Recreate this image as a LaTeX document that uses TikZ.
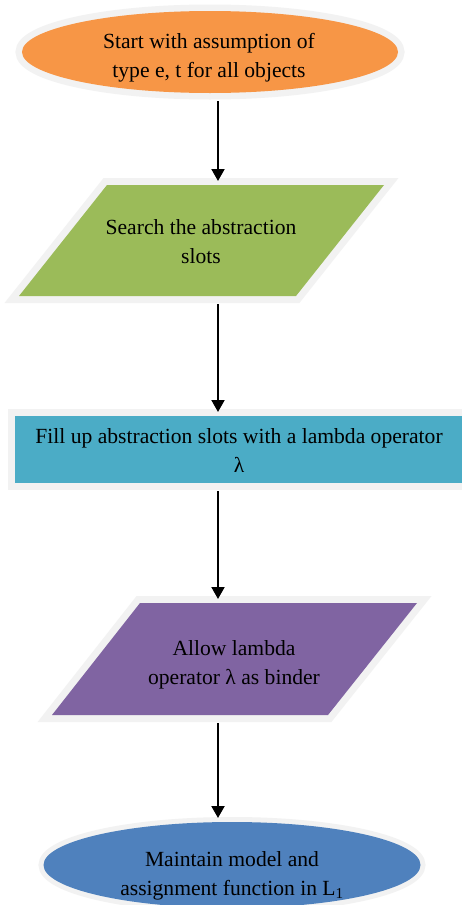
\documentclass[tikz,border=0pt]{standalone}
\usepackage{fontspec}
\setmainfont{Liberation Serif}
\usetikzlibrary{shapes.geometric,arrows.meta}
\definecolor{cOrange}{HTML}{F79646}
\definecolor{cGreen}{HTML}{9BBB59}
\definecolor{cAqua}{HTML}{4BACC6}
\definecolor{cPurple}{HTML}{8064A2}
\definecolor{cBlue}{HTML}{4F81BD}
\definecolor{cBorder}{HTML}{F2F2F2}
\begin{document}
\begin{tikzpicture}[x=1pt,y=-1pt,
  txt/.style={font=\fontsize{21.6}{29}\selectfont, align=center, text=black, inner sep=0pt},
  brd/.style={preaction={draw=cBorder, line width=#1, line join=miter}},
  oval/.style={ellipse, inner sep=0pt, outer sep=0pt},
  arr/.style={draw=black, line width=2pt, -{Triangle[width=13pt,length=12pt]},
    shorten <=8pt, shorten >=4pt}]
\useasboundingbox (0,0) rectangle (461,905);
\fill[white] (0,0) rectangle (461,905);

\node[oval, minimum width=376pt, minimum height=82pt, fill=cOrange, brd=13pt] (e1) at (210,52) {};
\path[fill=cGreen, brd=14pt] (107,185) -- (384,185) -- (296,296) -- (19,296) -- cycle;
\node[rectangle, inner sep=0pt, outer sep=0pt, minimum width=448pt, minimum height=67pt, fill=cAqua, brd=14pt] (r) at (239,449.5) {};
\path[fill=cPurple, brd=14pt] (140,603) -- (417,603) -- (328,715) -- (52,715) -- cycle;
\node[oval, minimum width=377pt, minimum height=86pt, fill=cBlue, brd=10pt] (e2) at (232,865) {};

\node[txt] (e1t) at (209,58) {Start with assumption of\\type e, t for all objects};
\node[txt] (p1t) at (201,242) {Search the abstraction\\slots};
\node[txt] (rt) at (239,450.5) {Fill up abstraction slots with a lambda operator\\λ};
\node[txt] (p2t) at (234,665) {Allow lambda\\operator λ as binder};
\node[txt] (e2t) at (232,875.5) {Maintain model and\\assignment function in L\textsubscript{1}};

\coordinate (ax) at (218,0);
\coordinate (p1n) at (218,185);
\coordinate (p1s) at (218,296);
\coordinate (p2n) at (218,603);
\coordinate (p2s) at (218,715);
\draw[arr] (ax |- e1.south) -- (p1n);
\draw[arr] (p1s) -- (ax |- r.north);
\draw[arr] (ax |- r.south) -- (p2n);
\draw[arr] (p2s) -- (ax |- e2.north);
\end{tikzpicture}
\end{document}
